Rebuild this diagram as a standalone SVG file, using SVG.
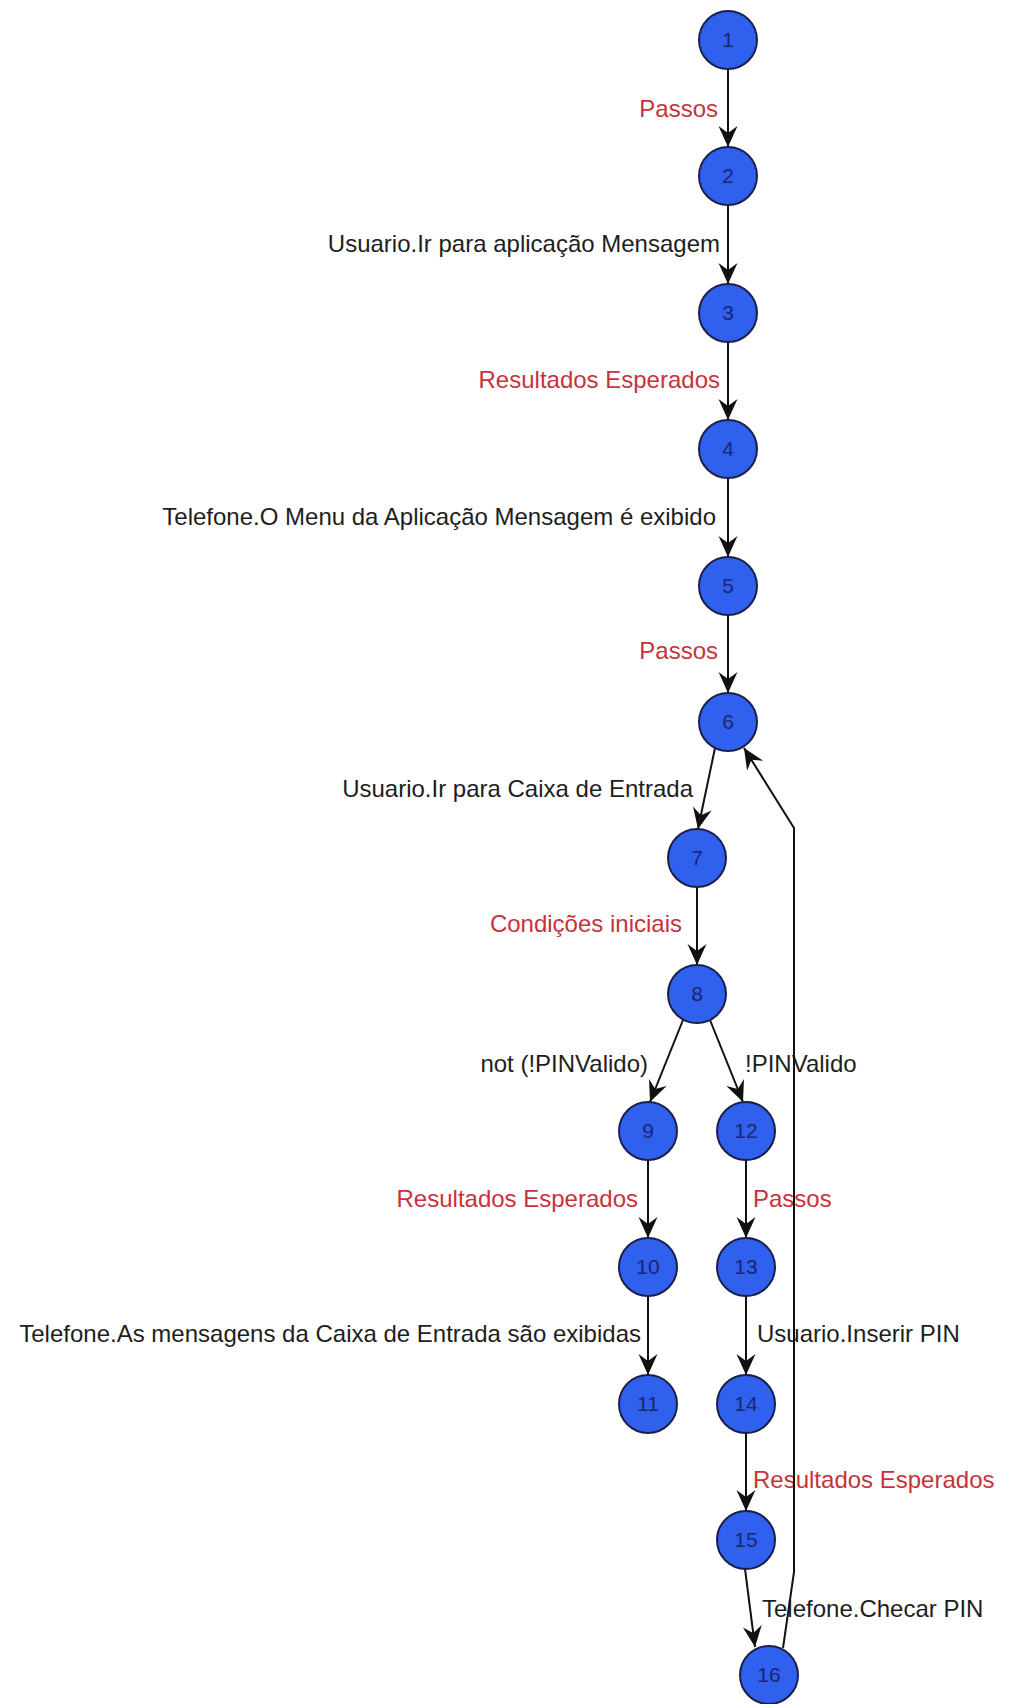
<svg xmlns="http://www.w3.org/2000/svg" width="1010" height="1704" viewBox="0 0 1010 1704">
  <style>
    .node circle { fill: #2f60ee; stroke: #1b1f4a; stroke-width: 2; }
    .node text { font-family: "Liberation Sans", Arial, sans-serif; font-size: 21px; fill: #1a2670; text-anchor: middle; }
    .edge { fill: none; stroke: #111; stroke-width: 2; marker-end: url(#arrow); }
    .lbl { font-family: "Liberation Sans", Arial, sans-serif; font-size: 24px; }
    .red { fill: #c8323c; }
    .blk { fill: #1e1e1e; }
    .end { text-anchor: end; }
  </style>
  <defs>
    <marker id="arrow" markerUnits="userSpaceOnUse" viewBox="-22 -11 23 22" refX="0" refY="0" markerWidth="23" markerHeight="22" orient="auto">
      <path d="M0,0 L-21,-9.5 L-14,0 L-21,9.5 Z" fill="#111"/>
    </marker>
  </defs>
  <rect width="1010" height="1704" fill="#ffffff"/>

  <!-- edge labels -->
  <g id="labels">
    <text class="lbl red end" x="718" y="117">Passos</text>
    <text class="lbl blk end" x="720" y="252">Usuario.Ir para aplicação Mensagem</text>
    <text class="lbl red end" x="720" y="388">Resultados Esperados</text>
    <text class="lbl blk end" x="716" y="525">Telefone.O Menu da Aplicação Mensagem é exibido</text>
    <text class="lbl red end" x="718" y="659">Passos</text>
    <text class="lbl blk end" x="693" y="797">Usuario.Ir para Caixa de Entrada</text>
    <text class="lbl red end" x="682" y="932">Condições iniciais</text>
    <text class="lbl blk end" x="648" y="1072">not (!PINValido)</text>
    <text class="lbl blk" x="745" y="1072">!PINValido</text>
    <text class="lbl red end" x="638" y="1207">Resultados Esperados</text>
    <text class="lbl red" x="753" y="1207">Passos</text>
    <text class="lbl blk end" x="641" y="1342">Telefone.As mensagens da Caixa de Entrada são exibidas</text>
    <text class="lbl blk" x="757" y="1342">Usuario.Inserir PIN</text>
    <text class="lbl red" x="753" y="1488">Resultados Esperados</text>
    <text class="lbl blk" x="762" y="1617">Telefone.Checar PIN</text>
  </g>

  <!-- connectors -->
  <g id="edges">
    <path class="edge" d="M728,69 L728,147"/>
    <path class="edge" d="M728,205 L728,284"/>
    <path class="edge" d="M728,342 L728,420"/>
    <path class="edge" d="M728,478 L728,557"/>
    <path class="edge" d="M728,615 L728,693"/>
    <path class="edge" d="M715,748 L698,829"/>
    <path class="edge" d="M697,887 L697,965"/>
    <path class="edge" d="M683,1020 L650,1102"/>
    <path class="edge" d="M710,1020 L743,1102"/>
    <path class="edge" d="M648,1160 L648,1238"/>
    <path class="edge" d="M648,1296 L648,1375"/>
    <path class="edge" d="M746,1160 L746,1238"/>
    <path class="edge" d="M746,1296 L746,1375"/>
    <path class="edge" d="M746,1433 L746,1511"/>
    <path class="edge" d="M745,1569 L755,1647"/>
    <path class="edge" d="M783,1648 L794,1572 L794,828 L744,748"/>
  </g>

  <!-- nodes -->
  <g id="n1" class="node"><circle cx="728" cy="40" r="29"/><text x="728" y="47">1</text></g>
  <g id="n2" class="node"><circle cx="728" cy="176" r="29"/><text x="728" y="183">2</text></g>
  <g id="n3" class="node"><circle cx="728" cy="313" r="29"/><text x="728" y="320">3</text></g>
  <g id="n4" class="node"><circle cx="728" cy="449" r="29"/><text x="728" y="456">4</text></g>
  <g id="n5" class="node"><circle cx="728" cy="586" r="29"/><text x="728" y="593">5</text></g>
  <g id="n6" class="node"><circle cx="728" cy="722" r="29"/><text x="728" y="729">6</text></g>
  <g id="n7" class="node"><circle cx="697" cy="858" r="29"/><text x="697" y="865">7</text></g>
  <g id="n8" class="node"><circle cx="697" cy="994" r="29"/><text x="697" y="1001">8</text></g>
  <g id="n9" class="node"><circle cx="648" cy="1131" r="29"/><text x="648" y="1138">9</text></g>
  <g id="n10" class="node"><circle cx="648" cy="1267" r="29"/><text x="648" y="1274">10</text></g>
  <g id="n11" class="node"><circle cx="648" cy="1404" r="29"/><text x="648" y="1411">11</text></g>
  <g id="n12" class="node"><circle cx="746" cy="1131" r="29"/><text x="746" y="1138">12</text></g>
  <g id="n13" class="node"><circle cx="746" cy="1267" r="29"/><text x="746" y="1274">13</text></g>
  <g id="n14" class="node"><circle cx="746" cy="1404" r="29"/><text x="746" y="1411">14</text></g>
  <g id="n15" class="node"><circle cx="746" cy="1540" r="29"/><text x="746" y="1547">15</text></g>
  <g id="n16" class="node"><circle cx="769" cy="1675" r="29"/><text x="769" y="1682">16</text></g>
</svg>
